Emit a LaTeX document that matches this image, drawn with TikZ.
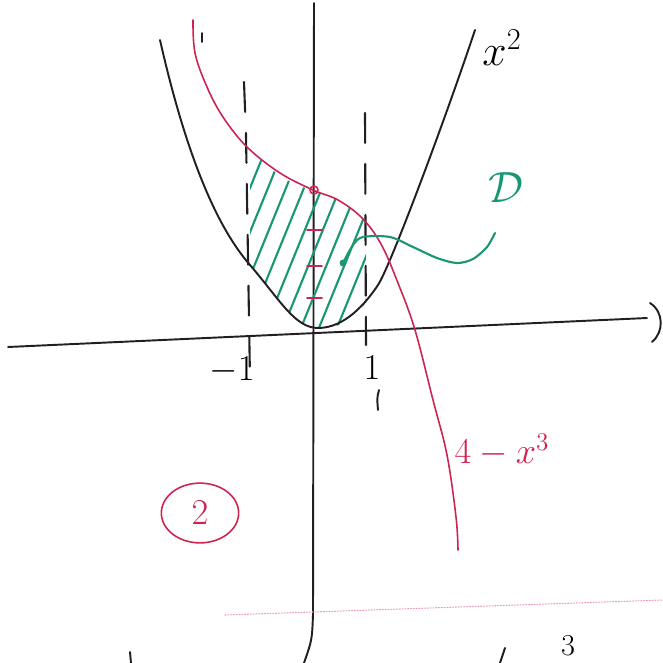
\documentclass[tikz,border=0pt]{standalone}
\usepackage{amsmath, amssymb, amsfonts}
\usepackage{tikz}
\usetikzlibrary{shapes.geometric}

\definecolor{pen}{RGB}{35,30,35}
\definecolor{redpen}{RGB}{205,35,80}
\definecolor{greenpen}{RGB}{25,150,115}

\begin{document}
\begin{tikzpicture}[x=0.02cm, y=-0.02cm, line cap=round, line join=round,
    ink/.style={pen, line width=1.1pt},
    guide/.style={pen, line width=1.2pt, dash pattern=on 17pt off 12pt},
    redcurve/.style={redpen, line width=0.9pt},
    greencurve/.style={greenpen, line width=1.2pt},
    hand/.style={inner sep=1pt, font=\fontsize{26}{30}\selectfont}]
    \useasboundingbox (0,0) rectangle (663,663);
    % Axes
    \draw[ink] (8,347) -- (647,318);
    \draw[ink] (650,303) .. controls (664,312) and (664,332) .. (652,342);
    \draw[ink] (314,3) -- (313,615) .. controls (312,640) .. (304,663);
    % Bounds x = -1 and x = 1
    \draw[ink] (202,33) -- (202,42);
    \draw[guide] (244,82) -- (246,135) -- (250,380);
    \draw[guide] (365,113) -- (366,345);
    \draw[ink] (379,390) .. controls (377,398) .. (378,410);
    \node[hand, font=\fontsize{20}{24}\selectfont] (mone) at (232,370) {$-1$};
    \node[hand, font=\fontsize{20}{24}\selectfont] (one) at (372,368) {$1$};
    % Hatched region
    \begin{scope}
        \clip (250,149) .. controls (275,176) and (295,186) .. (313,190)
              .. controls (335,197) and (352,207) .. (366,221)
              -- (366,302) .. controls (352,322) and (340,328) .. (318,328)
              .. controls (295,328) and (280,300) .. (250,265) -- cycle;
        \foreach \i in {0,...,13}
            \draw[greencurve] (150+18*\i,345) -- ++(110,-270);
    \end{scope}
    % x^2
    \draw[ink] (160,40) .. controls (185,150) and (215,225) .. (250,265)
               .. controls (280,300) and (295,328) .. (318,328)
               .. controls (345,328) and (366,303) .. (378,285)
               .. controls (390,267) and (445,120) .. (475,30);
    \node[hand] (xsq) at (502,48) {$x^2$};
    % 4 - x^3
    \draw[redcurve] plot[smooth, tension=0.6] coordinates {(193,20) (195,53) (207,87) (223,117) (247,147) (280,173) (313,190) (338,200) (362,218) (381,244) (398,283) (415,330) (433,400) (447,455) (456,517) (458,550)};
    \draw[redcurve] (314,190) circle (4);
    \foreach \y in {230,266,298}
        \draw[redcurve] (307,\y) -- (322,\y);
    \node[hand, redpen, font=\fontsize{22}{26}\selectfont] (cube) at (502,450) {$4-x^3$};
    \node[draw=redpen, line width=0.9pt, ellipse, minimum width=44, minimum height=34, inner sep=0pt, redpen, font=\fontsize{22}{24}\selectfont] (two) at (200,513) {$2$};
    % Domain label
    \draw[greencurve] plot[smooth] coordinates {(343,263) (353,245) (363,237) (390,237) (413,247) (437,258) (457,263) (473,259) (487,247) (495,233)};
    \fill[greenpen] (343,263) circle (3.5);
    \node[hand, greenpen, font=\fontsize{36}{40}\selectfont] (dom) at (506,188) {$\mathcal{D}$};
    % bottom of the page
    \draw[redpen!45, line width=0.6pt, densely dotted] (225,615) -- (663,600);
    \draw[ink] (130,652) -- (131,663);
    \draw[ink] (505,648) -- (500,663);
    \node[hand, inner sep=0pt, anchor=south, font=\fontsize{18}{20}\selectfont] (three) at (568,656) {$3$};
\end{tikzpicture}
\end{document}
